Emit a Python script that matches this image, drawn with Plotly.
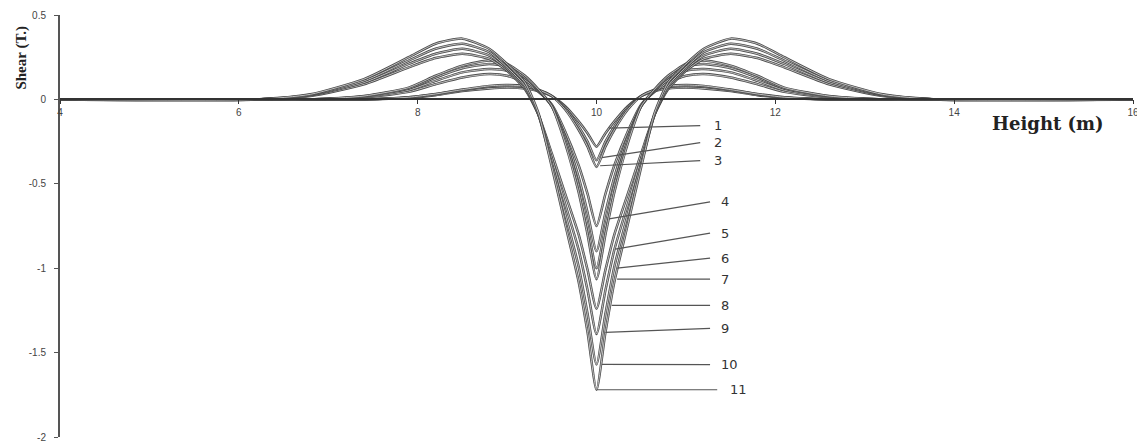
import plotly.graph_objects as go

# shared height grid (m)
height = [4, 6.2, 6.8, 7.4, 7.9, 8.2, 8.5, 8.8, 9.0, 9.2, 9.35, 9.5, 9.65, 9.8, 9.9,
          10,
          10.1, 10.2, 10.35, 10.5, 10.65, 10.8, 11.0, 11.2, 11.5, 11.8, 12.1, 12.6, 13.2, 13.8, 16]

# shear values (T), one list per curve
shear_1 = [0, 0, 0, 0, 0.01, 0.025, 0.05, 0.065, 0.07, 0.065, 0.05, 0.02, -0.04, -0.13, -0.20,
           -0.28,
           -0.20, -0.13, -0.04, 0.02, 0.05, 0.065, 0.07, 0.065, 0.05, 0.025, 0.01, 0, 0, 0, 0]
shear_2 = [0, 0, 0, 0, 0.012, 0.03, 0.055, 0.075, 0.08, 0.075, 0.055, 0.02, -0.05, -0.16, -0.25,
           -0.36,
           -0.25, -0.16, -0.05, 0.02, 0.055, 0.075, 0.08, 0.075, 0.055, 0.03, 0.012, 0, 0, 0, 0]
shear_3 = [0, 0, 0, 0, 0.013, 0.032, 0.058, 0.08, 0.085, 0.078, 0.057, 0.02, -0.06, -0.18, -0.28,
           -0.40,
           -0.28, -0.18, -0.06, 0.02, 0.057, 0.078, 0.085, 0.08, 0.058, 0.032, 0.013, 0, 0, 0, 0]
shear_4 = [0, 0, 0, 0.012, 0.045, 0.09, 0.13, 0.15, 0.14, 0.10, 0.045, -0.03, -0.19, -0.39, -0.56,
           -0.75,
           -0.56, -0.39, -0.19, -0.03, 0.045, 0.10, 0.14, 0.15, 0.13, 0.09, 0.045, 0.012, 0, 0, 0]
shear_5 = [0, 0, 0, 0.015, 0.055, 0.11, 0.16, 0.18, 0.17, 0.115, 0.05, -0.04, -0.22, -0.46, -0.67,
           -0.90,
           -0.67, -0.46, -0.22, -0.04, 0.05, 0.115, 0.17, 0.18, 0.16, 0.11, 0.055, 0.015, 0, 0, 0]
shear_6 = [0, 0, 0, 0.018, 0.065, 0.13, 0.185, 0.21, 0.195, 0.13, 0.055, -0.04, -0.24, -0.51, -0.75,
           -1.0,
           -0.75, -0.51, -0.24, -0.04, 0.055, 0.13, 0.195, 0.21, 0.185, 0.13, 0.065, 0.018, 0, 0, 0]
shear_7 = [0, 0, 0, 0.02, 0.07, 0.14, 0.20, 0.23, 0.21, 0.14, 0.06, -0.04, -0.26, -0.55, -0.80,
           -1.065,
           -0.80, -0.55, -0.26, -0.04, 0.06, 0.14, 0.21, 0.23, 0.20, 0.14, 0.07, 0.02, 0, 0, 0]
shear_8 = [0, 0, 0.02, 0.09, 0.19, 0.245, 0.27, 0.24, 0.17, 0.06, -0.09, -0.32, -0.56, -0.80, -1.01,
           -1.24,
           -1.01, -0.80, -0.56, -0.32, -0.09, 0.06, 0.17, 0.24, 0.27, 0.245, 0.19, 0.09, 0.02, 0, 0]
shear_9 = [0, 0, 0.025, 0.10, 0.21, 0.27, 0.30, 0.26, 0.18, 0.07, -0.09, -0.35, -0.62, -0.89, -1.13,
           -1.39,
           -1.13, -0.89, -0.62, -0.35, -0.09, 0.07, 0.18, 0.26, 0.30, 0.27, 0.21, 0.10, 0.025, 0, 0]
shear_10 = [0, 0, 0.027, 0.11, 0.23, 0.30, 0.33, 0.28, 0.19, 0.08, -0.09, -0.38, -0.68, -0.99, -1.27,
            -1.57,
            -1.27, -0.99, -0.68, -0.38, -0.09, 0.08, 0.19, 0.28, 0.33, 0.30, 0.23, 0.11, 0.027, 0, 0]
shear_11 = [0, 0, 0.03, 0.12, 0.25, 0.33, 0.36, 0.30, 0.21, 0.10, -0.08, -0.40, -0.74, -1.08, -1.38,
            -1.72,
            -1.38, -1.08, -0.74, -0.40, -0.08, 0.10, 0.21, 0.30, 0.36, 0.33, 0.25, 0.12, 0.03, 0, 0]

curves = [shear_1, shear_2, shear_3, shear_4, shear_5, shear_6,
          shear_7, shear_8, shear_9, shear_10, shear_11]
curve_labels = ["1", "2", "3", "4", "5", "6", "7", "8", "9", "10", "11"]

x_ticks = [4, 6, 8, 10, 12, 14, 16]
y_ticks = [0.5, 0, -0.5, -1, -1.5, -2]
y_ticktext = ["0.5", "0", "-0.5", "-1", "-1.5", "-2"]

# leader lines: (start x, start y, end x, end y, label x)
leaders = [
    (10.14, -0.17, 11.16, -0.155, 11.29),
    (10.06, -0.345, 11.16, -0.256, 11.29),
    (10.04, -0.393, 11.16, -0.363, 11.29),
    (10.14, -0.708, 11.27, -0.607, 11.37),
    (10.21, -0.887, 11.27, -0.792, 11.37),
    (10.23, -1.0, 11.27, -0.94, 11.37),
    (10.23, -1.065, 11.27, -1.065, 11.37),
    (10.17, -1.22, 11.27, -1.22, 11.37),
    (10.10, -1.38, 11.27, -1.357, 11.37),
    (10.06, -1.57, 11.27, -1.571, 11.37),
    (10.0, -1.72, 11.35, -1.72, 11.47),
]

fig = go.Figure()
for ys in curves:
    # dark outer stroke + light core gives the hollow double-line look
    fig.add_trace(go.Scatter(x=height, y=ys, mode="lines", showlegend=False, hoverinfo="skip",
                             line=dict(color="#4a4a4a", width=2.5, shape="spline", smoothing=0.6)))
    fig.add_trace(go.Scatter(x=height, y=ys, mode="lines", showlegend=False,
                             line=dict(color="#dddddd", width=0.8, shape="spline", smoothing=0.6)))

for (x0, y0, x1, y1, lx), lab in zip(leaders, curve_labels):
    fig.add_shape(type="line", x0=x0, y0=y0, x1=x1, y1=y1, xref="x", yref="y",
                  line=dict(color="#555555", width=1.2))
    fig.add_annotation(x=lx, y=y1, text=lab, showarrow=False, xanchor="left", yanchor="middle",
                       font=dict(family="DejaVu Sans", size=13, color="#333333"))

fig.add_annotation(xref="paper", yref="paper", x=-0.036, y=0.9, text="<b>Shear (T.)</b>",
                   textangle=-90, showarrow=False, xanchor="center", yanchor="middle",
                   font=dict(family="Liberation Serif", size=15, color="#222222"))
fig.add_annotation(xref="paper", yref="paper", x=0.867, y=0.742, xanchor="left", yanchor="middle",
                   text="<b>Height (m)</b>", showarrow=False,
                   font=dict(family="DejaVu Serif", size=18, color="#222222"))

fig.update_layout(
    width=1145,
    height=443,
    margin=dict(l=52, r=20, t=7, b=14),
    plot_bgcolor="white",
    paper_bgcolor="white",
    font=dict(family="Liberation Sans", size=10, color="#444444"),
    xaxis=dict(range=[4, 16], tickvals=x_ticks, anchor="free", position=0.8,
               showgrid=False, zeroline=False, showline=True, linecolor="#333333",
               linewidth=2, ticks="outside", ticklen=4, tickcolor="#333333",
               automargin=False),
    yaxis=dict(range=[-2, 0.5], tickvals=y_ticks, ticktext=y_ticktext,
               showgrid=False, zeroline=False, showline=True, linecolor="#555555",
               linewidth=2, ticks="outside", ticklen=4, tickcolor="#555555",
               ticklabelstandoff=6, automargin=False),
)

fig.write_html("out.html")
